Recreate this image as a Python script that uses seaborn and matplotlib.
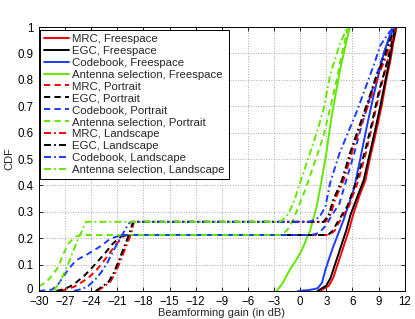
import numpy as np
import pandas as pd
import seaborn as sns
import matplotlib
matplotlib.use("Agg")
import matplotlib.pyplot as plt
import matplotlib.transforms as mtransforms

# ---------------- data ----------------
# Freespace (solid)
mrc_fs_x = [2.3, 3.3, 3.8, 4.3, 5.0, 5.6, 6.1, 6.8, 7.5, 8.0, 8.7, 9.35, 9.9, 10.4, 10.7, 10.95, 11.05]
mrc_fs_y = [0, 0.02, 0.05, 0.1, 0.17, 0.23, 0.29, 0.36, 0.42, 0.5, 0.6, 0.7, 0.8, 0.88, 0.94, 0.98, 1.0]
egc_fs_x = [2.0, 3.0, 3.5, 4.0, 4.7, 5.3, 5.8, 6.6, 7.3, 7.85, 8.55, 9.2, 9.8, 10.3, 10.6, 10.9, 11.0]
egc_fs_y = [0, 0.02, 0.05, 0.1, 0.17, 0.23, 0.29, 0.36, 0.42, 0.5, 0.6, 0.7, 0.8, 0.88, 0.94, 0.98, 1.0]
cb_fs_x = [-0.2, 1.0, 2.0, 2.5, 2.9, 3.3, 3.8, 5.0, 6.2, 6.9, 7.7, 8.3, 9.0, 9.6, 10.3, 10.9]
cb_fs_y = [0, 0.003, 0.01, 0.03, 0.08, 0.12, 0.168, 0.27, 0.39, 0.5, 0.63, 0.72, 0.82, 0.9, 0.97, 1.0]
as_fs_x = [-2.7, -2.0, -1.2, -0.4, 0.2, 1.15, 1.9, 2.3, 3.0, 3.56, 4.1, 4.6, 5.2, 5.7]
as_fs_y = [0, 0.03, 0.08, 0.12, 0.155, 0.23, 0.32, 0.39, 0.52, 0.65, 0.75, 0.84, 0.93, 1.0]

# Portrait (dashed)
mrc_p_x = [-27.5, -26.0, -24.5, -23.5, -22.4, -21.3, -20.4, -19.9, 3.4, 4.0, 4.4, 5.6, 6.7, 7.6, 8.3, 9.1, 10.1, 10.6, 11.0]
mrc_p_y = [0, 0.015, 0.045, 0.075, 0.12, 0.17, 0.205, 0.212, 0.212, 0.23, 0.256, 0.32, 0.42, 0.53, 0.63, 0.75, 0.88, 0.95, 1.0]
egc_p_x = [-28, -27, -26.1, -24.9, -23.8, -22.6, -21.5, -20.5, -20.0, 3.2, 3.8, 4.2, 5.4, 6.5, 7.45, 8.2, 9.0, 10.1, 10.6, 11.0]
egc_p_y = [0, 0.008, 0.023, 0.054, 0.092, 0.136, 0.18, 0.208, 0.212, 0.212, 0.23, 0.256, 0.32, 0.42, 0.53, 0.63, 0.75, 0.88, 0.95, 1.0]
cb_p_x = [-30, -28.5, -27.8, -27.1, -26.3, -25.7, -24.5, -23.0, -21.8, -20.9, -20.3, 1.3, 2.2, 3.0, 3.7, 4.5, 5.3, 6.2, 7.0, 7.9, 8.9, 9.8, 10.8]
cb_p_y = [0, 0.005, 0.025, 0.06, 0.095, 0.117, 0.138, 0.168, 0.198, 0.208, 0.212, 0.212, 0.22, 0.25, 0.29, 0.33, 0.42, 0.52, 0.62, 0.72, 0.83, 0.92, 1.0]
as_p_x = [-30, -29.3, -28.7, -27.8, -27.2, -26.6, -25.9, -25.3, -2.2, -1.5, -0.8, -0.3, 0.6, 1.7, 2.7, 3.5, 4.2, 4.8, 5.5]
as_p_y = [0.018, 0.03, 0.05, 0.09, 0.14, 0.18, 0.204, 0.212, 0.212, 0.23, 0.27, 0.31, 0.385, 0.49, 0.59, 0.7, 0.8, 0.9, 1.0]

# Landscape (dash-dot)
mrc_l_x = [-23.3, -22.6, -21.8, -21.2, -20.6, -20.1, -19.7, -19.3, -19.1, 2.9, 3.5, 4.0, 5.0, 6.0, 7.0, 8.0, 9.0, 9.8, 10.4, 11.0]
mrc_l_y = [0, 0.015, 0.035, 0.07, 0.117, 0.16, 0.193, 0.23, 0.262, 0.262, 0.29, 0.345, 0.42, 0.53, 0.63, 0.72, 0.82, 0.88, 0.95, 1.0]
egc_l_x = [-23.5, -22.8, -22.0, -21.4, -20.8, -20.3, -19.9, -19.5, -19.2, 2.7, 3.3, 3.8, 4.8, 5.8, 6.85, 7.8, 8.8, 9.6, 10.3, 10.9]
egc_l_y = [0, 0.015, 0.035, 0.07, 0.117, 0.16, 0.193, 0.23, 0.262, 0.262, 0.29, 0.345, 0.42, 0.53, 0.63, 0.72, 0.82, 0.88, 0.95, 1.0]
cb_l_x = [-26, -25, -24.3, -23.5, -22.8, -22.1, -21.6, -21.0, -20.4, -19.8, -19.5, 1.0, 1.8, 2.4, 2.9, 3.45, 4.5, 5.5, 6.5, 7.5, 8.5, 9.2, 10.0, 10.7]
cb_l_y = [0, 0.008, 0.02, 0.045, 0.073, 0.11, 0.143, 0.18, 0.215, 0.25, 0.262, 0.262, 0.27, 0.29, 0.32, 0.41, 0.52, 0.6, 0.68, 0.77, 0.86, 0.93, 0.97, 1.0]
as_l_x = [-28.3, -27.5, -26.8, -26.2, -25.6, -25.1, -24.6, -2.3, -1.6, -1.1, -0.6, 0.0, 1.0, 2.0, 2.7, 3.45, 4.5, 5.4]
as_l_y = [0, 0.04, 0.09, 0.14, 0.19, 0.225, 0.262, 0.262, 0.28, 0.31, 0.35, 0.41, 0.51, 0.61, 0.69, 0.82, 0.93, 1.0]

labels = ["MRC, Freespace", "EGC, Freespace", "Codebook, Freespace", "Antenna selection, Freespace",
          "MRC, Portrait", "EGC, Portrait", "Codebook, Portrait", "Antenna selection, Portrait",
          "MRC, Landscape", "EGC, Landscape", "Codebook, Landscape", "Antenna selection, Landscape"]
xs = [mrc_fs_x, egc_fs_x, cb_fs_x, as_fs_x, mrc_p_x, egc_p_x, cb_p_x, as_p_x, mrc_l_x, egc_l_x, cb_l_x, as_l_x]
ys = [mrc_fs_y, egc_fs_y, cb_fs_y, as_fs_y, mrc_p_y, egc_p_y, cb_p_y, as_p_y, mrc_l_y, egc_l_y, cb_l_y, as_l_y]

xticks = list(range(-30, 13, 3))
yticks = [0, 0.1, 0.2, 0.3, 0.4, 0.5, 0.6, 0.7, 0.8, 0.9, 1.0]
ytick_labels = ["0", "0.1", "0.2", "0.3", "0.4", "0.5", "0.6", "0.7", "0.8", "0.9", "1"]

# ---------------- style ----------------
colors = ["#ff0000", "#000000", "#1a3cff", "#62e800"]
styles = ["-", (0, (3.2, 2.2)), (0, (3.6, 1.6, 0.9, 1.6))]

sns.set_style("ticks")
plt.rcParams["font.family"] = ["Liberation Sans", "DejaVu Sans"]

fig = plt.figure(figsize=(4.15, 3.19), dpi=100)
ax = fig.add_axes([0.094, 0.088, 0.881, 0.827])

for i, (lab, x, y) in enumerate(zip(labels, xs, ys)):
    sns.lineplot(x=x, y=y, sort=False, estimator=None, ax=ax, legend=False,
                 color=colors[i % 4], linestyle=styles[i // 4], linewidth=1.4, label=lab)

ax.set_xlim(-30, 12)
ax.set_ylim(0, 1)
ax.set_xticks(xticks)
ax.set_yticks(yticks)
ax.set_yticklabels(ytick_labels)
ax.grid(True, linestyle=":", color="#a8a8a8", linewidth=0.7)
ax.tick_params(direction="in", top=True, right=True, length=3, width=0.6,
               labelsize=8.3, colors="black")
ax.tick_params(axis="x", pad=4)
ax.tick_params(axis="y", pad=4)
for s in ax.spines.values():
    s.set_visible(True)
    s.set_linewidth(0.7)
    s.set_color("black")
ax.set_xlabel("Beamforming gain (in dB)", fontsize=8, labelpad=0)
ax.set_ylabel("CDF", fontsize=8, labelpad=2)

# nudge the "0" y tick label slightly up so it does not touch "-30"
lbl0 = ax.get_yticklabels()[0]
lbl0.set_transform(lbl0.get_transform() + mtransforms.ScaledTranslation(0, 2 / 72, fig.dpi_scale_trans))

leg = ax.legend(loc="upper left", bbox_to_anchor=(0.002, 0.99), fontsize=8.2,
                handlelength=2.2, handletextpad=0.3, labelspacing=0.17,
                borderpad=0.35, borderaxespad=0.0, frameon=True, fancybox=False,
                framealpha=1.0, edgecolor="black")
leg.get_frame().set_linewidth(0.7)

fig.savefig("out.png", dpi=100)
